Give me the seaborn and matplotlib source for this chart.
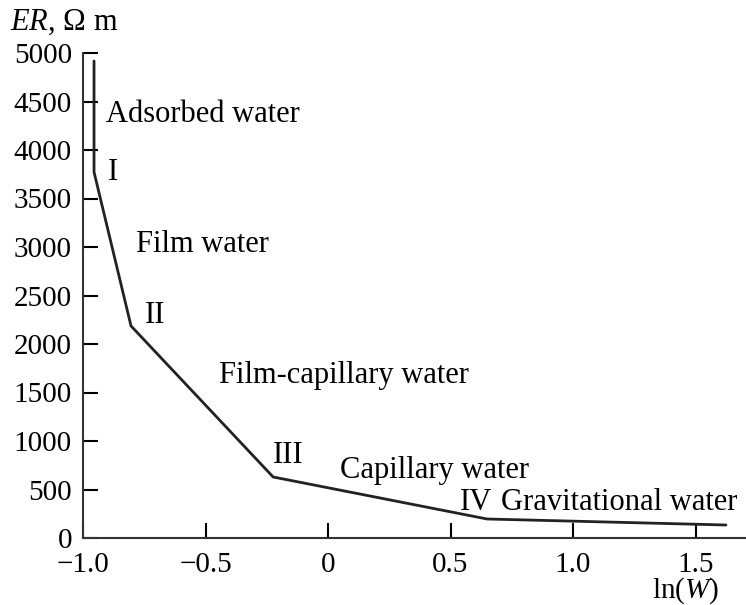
import matplotlib
matplotlib.use("Agg")
import matplotlib.pyplot as plt
import seaborn as sns
import pandas as pd

# Data
ln_w = [-0.955, -0.955, -0.804, -0.224, 0.649, 1.624]
er = [4918, 3773, 2186, 629, 196, 134]

zone_labels = ["Adsorbed water", "Film water", "Film-capillary water",
               "Capillary water", "Gravitational water"]
zone_pos = [(-0.905, 4289), (-0.782, 2948), (-0.443, 1598), (0.047, 619), (0.708, 289)]
roman = ["I", "II", "III", "IV"]
roman_pos = [(-0.900, 3691), (-0.749, 2216), (-0.226, 773), (0.537, 289)]

x_ticks = [-1.0, -0.5, 0.0, 0.5, 1.0, 1.5]
x_tick_labels = ["\u22121.0", "\u22120.5", "0", "0.5", "1.0", "1.5"]
y_ticks = [0, 500, 1000, 1500, 2000, 2500, 3000, 3500, 4000, 4500, 5000]

sns.set_theme(style="ticks")
plt.rcParams["font.family"] = ["Liberation Serif", "DejaVu Serif"]
plt.rcParams["mathtext.fontset"] = "custom"
plt.rcParams["mathtext.rm"] = "Liberation Serif"
plt.rcParams["mathtext.it"] = "Liberation Serif:italic"

fs = 22
tfs = 21

fig = plt.figure(figsize=(7.46, 6.05), dpi=100)
ax = fig.add_axes([83 / 746, 1 - 538 / 605, (746 - 83) / 746, (538 - 53) / 605])

df = pd.DataFrame({"lnW": ln_w, "ER": er})
ax.plot(df["lnW"], df["ER"], color="#222222", lw=2)

ax.set_xlim(-1.0, 1.706)
ax.set_ylim(0, 5000)
ax.set_xticks(x_ticks)
ax.set_xticklabels(x_tick_labels)
ax.set_yticks(y_ticks)
ax.tick_params(direction="in", length=11, width=1.5, labelsize=tfs, color="black",
               labelcolor="black")
ax.tick_params(axis="x", pad=10)
ax.tick_params(axis="y", pad=8)
sns.despine(ax=ax)
for s in ["left", "bottom"]:
    ax.spines[s].set_linewidth(1.5)
    ax.spines[s].set_color("#333333")

for lab, (x, y) in zip(zone_labels, zone_pos):
    ax.text(x, y, lab, fontsize=fs, ha="left", va="baseline", color="black")
for lab, (x, y) in zip(roman, roman_pos):
    ax.text(x, y, lab, fontsize=fs, ha="left", va="baseline", color="black")

fig.text(10 / 746, 1 - 30 / 605, r"$\mathit{ER}$, Ω m", fontsize=fs, ha="left",
         va="baseline", color="black")
fig.text(719 / 746, 1 - 598 / 605, r"ln($\mathit{W}$)", fontsize=tfs, ha="right",
         va="baseline", color="black")

fig.savefig("out.png", dpi=100)
